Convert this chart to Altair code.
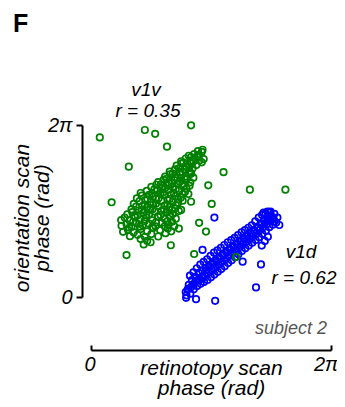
import math
import altair as alt
import pandas as pd

TWO_PI = 2 * math.pi
FONT = "Liberation Sans"

# phases in radians (retinotopy scan, orientation scan)
green_cluster = [
    (1.38, 1.92), (1.47, 2.05), (1.56, 2.00), (1.30, 2.12),
    (1.02, 2.22), (1.22, 2.27), (1.41, 2.20), (1.58, 2.30), (1.76, 2.21), (1.95, 2.33), (2.10, 2.40),
    (0.84, 2.38), (0.97, 2.45), (1.12, 2.36), (1.30, 2.48), (1.47, 2.40), (1.63, 2.52), (1.81, 2.44),
    (2.01, 2.50), (2.18, 2.58), (2.30, 2.50),
    (0.80, 2.60), (0.93, 2.66), (1.06, 2.56), (1.19, 2.70), (1.35, 2.62), (1.52, 2.68), (1.69, 2.58),
    (1.86, 2.71), (2.03, 2.64), (2.12, 2.75),
    (0.79, 2.81), (0.88, 2.90), (1.01, 2.79), (1.14, 2.93), (1.28, 2.84), (1.44, 2.91), (1.60, 2.80),
    (1.76, 2.92), (1.93, 2.85), (2.08, 2.94), (2.22, 2.86),
    (0.95, 3.02), (1.08, 3.10), (1.22, 2.98), (1.37, 3.07), (1.52, 3.01), (1.67, 3.12), (1.82, 3.00),
    (1.98, 3.09), (2.14, 3.03), (2.30, 3.14),
    (1.06, 3.20), (1.18, 3.30), (1.33, 3.18), (1.47, 3.28), (1.61, 3.21), (1.76, 3.32), (1.91, 3.19),
    (2.06, 3.29), (2.20, 3.23), (2.36, 3.18),
    (1.12, 3.40), (1.27, 3.50), (1.41, 3.37), (1.56, 3.47), (1.70, 3.41), (1.85, 3.52), (2.00, 3.38),
    (2.14, 3.48), (2.28, 3.44), (2.40, 3.52),
    (1.20, 3.60), (1.33, 3.70), (1.48, 3.57), (1.62, 3.66), (1.77, 3.61), (1.92, 3.72), (2.06, 3.58),
    (2.21, 3.68), (2.35, 3.63), (2.55, 3.76),
    (1.30, 3.80), (1.46, 3.88), (1.60, 3.78), (1.74, 3.90), (1.89, 3.82), (2.03, 3.92), (2.17, 3.79),
    (2.31, 3.89), (2.46, 3.84),
    (1.58, 4.02), (1.71, 4.10), (1.86, 3.98), (2.00, 4.08), (2.14, 4.01), (2.28, 4.12), (2.42, 4.03),
    (2.58, 4.06),
    (1.76, 4.20), (1.90, 4.28), (2.04, 4.17), (2.18, 4.27), (2.32, 4.21), (2.46, 4.30), (2.60, 4.19),
    (1.94, 4.40), (2.07, 4.48), (2.20, 4.37), (2.34, 4.47), (2.48, 4.41), (2.62, 4.50), (2.68, 4.36),
    (2.06, 4.58), (2.20, 4.66), (2.33, 4.56), (2.46, 4.67), (2.58, 4.60), (2.66, 4.70),
    (2.24, 4.80), (2.37, 4.88), (2.50, 4.77), (2.63, 4.87), (2.76, 4.82),
    (2.36, 4.96), (2.48, 5.06), (2.60, 4.98), (2.72, 5.08), (2.84, 4.99), (2.95, 5.04),
    (2.56, 5.16), (2.70, 5.22), (2.82, 5.18), (2.90, 5.30), (2.80, 5.33), (2.92, 5.38),
]
green_core = [
    (1.00, 2.53), (1.28, 2.57), (1.60, 2.55), (1.93, 2.58),
    (1.10, 2.74), (1.40, 2.77), (1.70, 2.73), (2.00, 2.76),
    (1.15, 2.96), (1.45, 2.99), (1.75, 2.95), (2.05, 2.98),
    (1.25, 3.16), (1.55, 3.19), (1.85, 3.15), (2.12, 3.18),
    (1.35, 3.33), (1.63, 3.37), (1.93, 3.34), (2.22, 3.36),
    (1.42, 3.54), (1.70, 3.58), (2.00, 3.55), (2.28, 3.57),
    (1.52, 3.73), (1.82, 3.77), (2.10, 3.74), (2.40, 3.76),
    (1.66, 3.93), (1.94, 3.97), (2.22, 3.94), (2.50, 3.96),
    (1.83, 4.12), (2.11, 4.16), (2.39, 4.13),
    (1.98, 4.32), (2.26, 4.36), (2.52, 4.33),
    (2.14, 4.51), (2.40, 4.55), (2.60, 4.52),
    (2.30, 4.70), (2.57, 4.74),
    (2.42, 4.91), (2.68, 4.95), (2.90, 4.92),
    (2.62, 5.11), (2.78, 5.13),
]
green_outliers = [
    (0.23, 5.83), (1.41, 6.10), (1.68, 5.96), (2.62, 6.27), (1.99, 5.49), (0.99, 4.76),
    (3.47, 4.56), (3.07, 4.08), (4.16, 3.92), (5.09, 3.92), (0.54, 3.46), (3.16, 3.40),
    (2.83, 2.71), (2.09, 1.89), (0.93, 1.53), (2.70, 1.57), (3.80, 1.46), (3.01, 2.39),
    (2.62, 3.48),
]
blue_cluster = [
    (2.50, 0.06), (2.53, 0.27), (2.48, 0.18), (2.56, 0.44),
    (2.60, 0.12), (2.62, 0.36), (2.64, 0.62), (2.59, 0.78),
    (2.69, 0.28), (2.71, 0.50), (2.73, 0.74), (2.68, 0.90),
    (2.78, 0.40), (2.80, 0.63), (2.82, 0.88), (2.77, 1.05),
    (2.87, 0.48), (2.89, 0.72), (2.91, 0.97), (2.86, 1.18),
    (2.96, 0.55), (2.98, 0.80), (3.00, 1.06), (2.95, 1.28),
    (3.05, 0.62), (3.07, 0.88), (3.09, 1.14), (3.04, 1.38),
    (3.14, 0.72), (3.16, 0.98), (3.18, 1.24), (3.13, 1.50),
    (3.23, 0.82), (3.25, 1.08), (3.27, 1.34), (3.22, 1.62),
    (3.32, 0.92), (3.34, 1.18), (3.36, 1.45), (3.31, 1.70),
    (3.41, 1.02), (3.43, 1.28), (3.45, 1.55), (3.40, 1.80),
    (3.50, 1.12), (3.52, 1.38), (3.54, 1.65), (3.49, 1.90),
    (3.59, 1.24), (3.61, 1.50), (3.63, 1.76), (3.58, 2.00),
    (3.68, 1.34), (3.70, 1.60), (3.72, 1.86), (3.67, 2.08),
    (3.77, 1.45), (3.79, 1.70), (3.81, 1.96), (3.76, 2.16),
    (3.86, 1.56), (3.88, 1.82), (3.90, 2.06), (3.85, 2.26),
    (3.95, 1.68), (3.97, 1.93), (3.99, 2.16), (3.94, 2.36),
    (4.04, 1.78), (4.06, 2.02), (4.08, 2.26), (4.03, 2.44),
    (4.13, 1.88), (4.15, 2.12), (4.17, 2.35), (4.12, 2.53),
    (4.22, 1.98), (4.24, 2.22), (4.26, 2.45), (4.21, 2.62),
    (4.31, 2.08), (4.33, 2.32), (4.35, 2.56), (4.30, 2.76),
    (4.40, 2.18), (4.42, 2.44), (4.44, 2.68), (4.39, 2.90),
    (4.49, 2.30), (4.51, 2.55), (4.53, 2.80), (4.48, 3.00),
    (4.58, 2.42), (4.60, 2.66), (4.62, 2.90), (4.57, 3.06),
    (4.67, 2.55), (4.69, 2.78), (4.71, 2.98), (4.66, 3.10),
    (4.76, 2.64), (4.78, 2.86), (4.80, 3.04),
    (4.85, 2.72), (4.88, 2.90),
]
blue_core = [
    (2.55, 0.30), (2.66, 0.45), (2.75, 0.58), (2.84, 0.62), (2.93, 0.70), (3.02, 0.98),
    (3.11, 1.10), (3.20, 1.20), (3.29, 1.28), (3.38, 1.40), (3.47, 1.52), (3.56, 1.62),
    (3.65, 1.72), (3.74, 1.82), (3.83, 1.92), (3.92, 2.02), (4.01, 2.12), (4.10, 2.22),
    (4.19, 2.32), (4.28, 2.40), (4.37, 2.52), (4.46, 2.64), (4.55, 2.70), (4.64, 2.80),
    (4.73, 2.88), (4.70, 3.12), (4.62, 3.12), (4.52, 3.08), (4.80, 2.76),
]
blue_outliers = [
    (3.23, 2.90), (2.92, 1.72), (4.45, 1.19), (4.32, 0.35), (3.25, -0.14), (2.75, -0.08),
    (2.49, -0.03), (4.63, 2.20), (4.47, 1.88), (4.93, 2.63), (3.97, 1.29), (4.55, 2.05),
]

tick_values = [0, TWO_PI]
label_expr = "datum.value < 1 ? '0' : '2π'"
x_title = ["retinotopy scan", "phase (rad)"]
y_title = ["orientation scan", "phase (rad)"]

green = pd.DataFrame(green_cluster + green_core + green_outliers, columns=["x", "y"])
blue = pd.DataFrame(blue_cluster + blue_core + blue_outliers, columns=["x", "y"])

xscale = alt.Scale(domain=[0, TWO_PI], nice=False, zero=False)
yscale = alt.Scale(domain=[0, TWO_PI], nice=False, zero=False)

common_axis = dict(
    values=tick_values, labelExpr=label_expr, grid=False,
    domainColor="black", domainWidth=2, tickColor="black", tickWidth=2,
    labelFont=FONT, labelFontStyle="italic", labelFontSize=20, labelColor="black",
    titleFont=FONT, titleFontStyle="italic", titleFontWeight="normal",
    titleFontSize=21, titleColor="black", titleLineHeight=20,
)

X_OFFSET = 53
x_axis_bottom = alt.Axis(
    orient="bottom", offset=X_OFFSET, ticks=False, labelPadding=4,
    labelFlush=True, labelFlushOffset=7,
    title=x_title, titleBaseline="alphabetic", titleY=24, **common_axis,
)
x_axis_ticks = alt.Axis(
    orient="top", offset=-(172 + X_OFFSET), labels=False, domain=False, ticks=True,
    tickSize=5, tickWidth=2, tickColor="black", grid=False, values=tick_values, title=None,
)
y_axis = alt.Axis(
    orient="left", offset=9, tickSize=6, labelPadding=4, labelFlush=False,
    title=None, **common_axis,
)

point_style = dict(shape="circle", filled=False, size=42, strokeWidth=1.7, opacity=1)

blue_layer = alt.Chart(blue).mark_point(color="#0000ff", **point_style).encode(
    x=alt.X("x:Q", scale=xscale, axis=x_axis_bottom),
    y=alt.Y("y:Q", scale=yscale, axis=y_axis),
)
green_layer = alt.Chart(green).mark_point(color="#008000", **point_style).encode(
    x=alt.X("x:Q", scale=xscale, axis=x_axis_ticks),
    y=alt.Y("y:Q", scale=yscale, axis=y_axis),
)


def note(text, px, py, size=19, color="black", style="italic", weight="normal",
         align="center", angle=0):
    return alt.Chart(pd.DataFrame({"t": [text]})).mark_text(
        font=FONT, fontSize=size, fontStyle=style, fontWeight=weight, color=color,
        align=align, baseline="alphabetic", angle=angle,
    ).encode(x=alt.value(px), y=alt.value(py), text="t:N")


notes = [
    note(y_title[0], -62, 93, size=21, angle=270),
    note(y_title[1], -42, 93, size=21, angle=270),
    note("v1v", 55, -29),
    note("r = 0.35", 57, -8),
    note("v1d", 210, 133),
    note("r = 0.62", 213, 159),
    note("subject 2", 200, 209, size=18, color="#555555"),
    note("F", -78, -93, size=25, style="normal", weight="bold", align="left"),
]

chart = alt.layer(blue_layer, green_layer, *notes).resolve_axis(x="independent").properties(
    width=240, height=172,
    autosize=alt.AutoSizeParams(type="none"),
    padding={"left": 83, "top": 117, "right": 6, "bottom": 102},
    background="white",
).configure_view(stroke="transparent")

chart.save("out.html", embed_options={"renderer": "svg", "actions": False})
